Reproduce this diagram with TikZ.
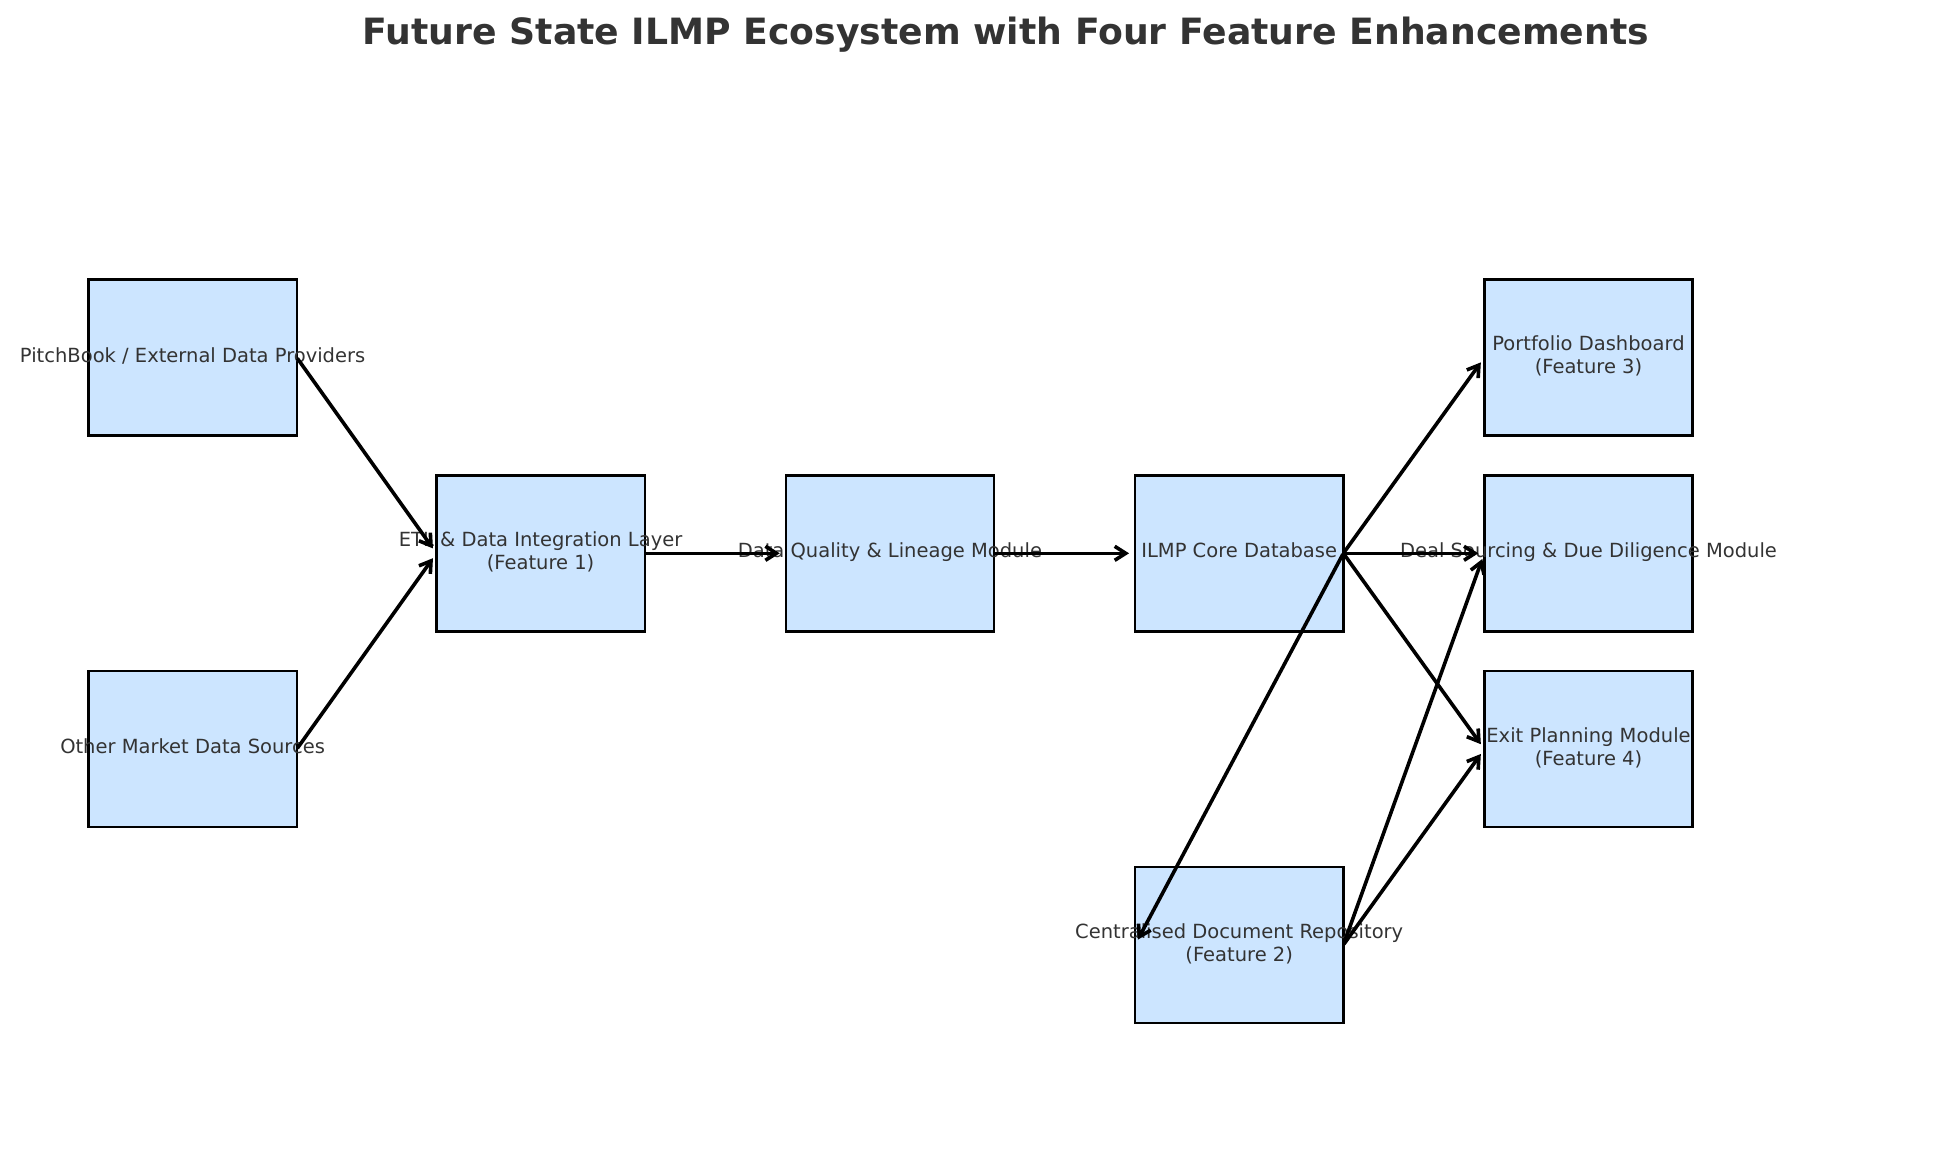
\documentclass[tikz,border=0pt]{standalone}
\usepackage{fontspec}
\setmainfont{DejaVu Sans}
\usepackage{xcolor}
\usetikzlibrary{arrows.meta,positioning}
\definecolor{boxblue}{RGB}{204,229,255}
\definecolor{textgrey}{RGB}{51,51,51}
\newcommand{\lbl}[1]{\makebox[0pt]{\raisebox{-2pt}{\begin{tabular}{@{}c@{}}#1\end{tabular}}}}

\begin{document}
\begin{tikzpicture}[
    x=1pt,y=-1pt,
    node distance=39.8pt and 141pt,
    box/.style={rectangle,draw=black,fill=boxblue,line width=2.4pt,outer sep=0pt,
      minimum width=208.3pt,minimum height=156pt,inner sep=0pt,
      text=textgrey,font=\fontsize{19.5}{23}\selectfont},
    arrow/.style={-{Straight Barb[length=11pt,width=14pt]},line width=3.6pt,
      shorten >=6pt,shorten <=1pt}
  ]
    \useasboundingbox (0,0) rectangle (1956,1161);
    \node[text=textgrey,font=\fontsize{36.2}{42}\selectfont\bfseries] (title) at (1006,35)
      {Future State ILMP Ecosystem with Four Feature Enhancements};
    \node[box] (pitchbook) at (192.6,357.5) {\lbl{PitchBook / External Data Providers}};
    \node[box] (othermkt) at (192.6,749.1) {\lbl{Other Market Data Sources}};
    \node[box] (etl) at (540.6,553.3) {\lbl{ETL \& Data Integration Layer\\(Feature 1)}};
    \node[box,right=of etl] (dq) {\lbl{Data Quality \& Lineage Module}};
    \node[box,right=of dq] (core) {\lbl{ILMP Core Database}};
    \node[box,right=of core] (deal) {\lbl{Deal Sourcing \& Due Diligence Module}};
    \node[box,above=of deal] (portfolio) {\lbl{Portfolio Dashboard\\(Feature 3)}};
    \node[box,below=of deal] (exit) {\lbl{Exit Planning Module\\(Feature 4)}};
    \node[box,below=235.6pt of core] (docrepo) {\lbl{Centralised Document Repository\\(Feature 2)}};
    \draw[arrow] (pitchbook.east) -- (etl.west);
    \draw[arrow] (othermkt.east) -- (etl.west);
    \draw[arrow] (etl.east) -- (dq.west);
    \draw[arrow] (dq.east) -- (core.west);
    \draw[arrow] (core.east) -- (portfolio.west);
    \draw[arrow] (core.east) -- (deal.west);
    \draw[arrow] (core.east) -- (exit.west);
    \draw[arrow] (core.east) -- (docrepo.west);
    \draw[arrow] (docrepo.east) -- (deal.west);
    \draw[arrow] (docrepo.east) -- (exit.west);
  \end{tikzpicture}
\end{document}
